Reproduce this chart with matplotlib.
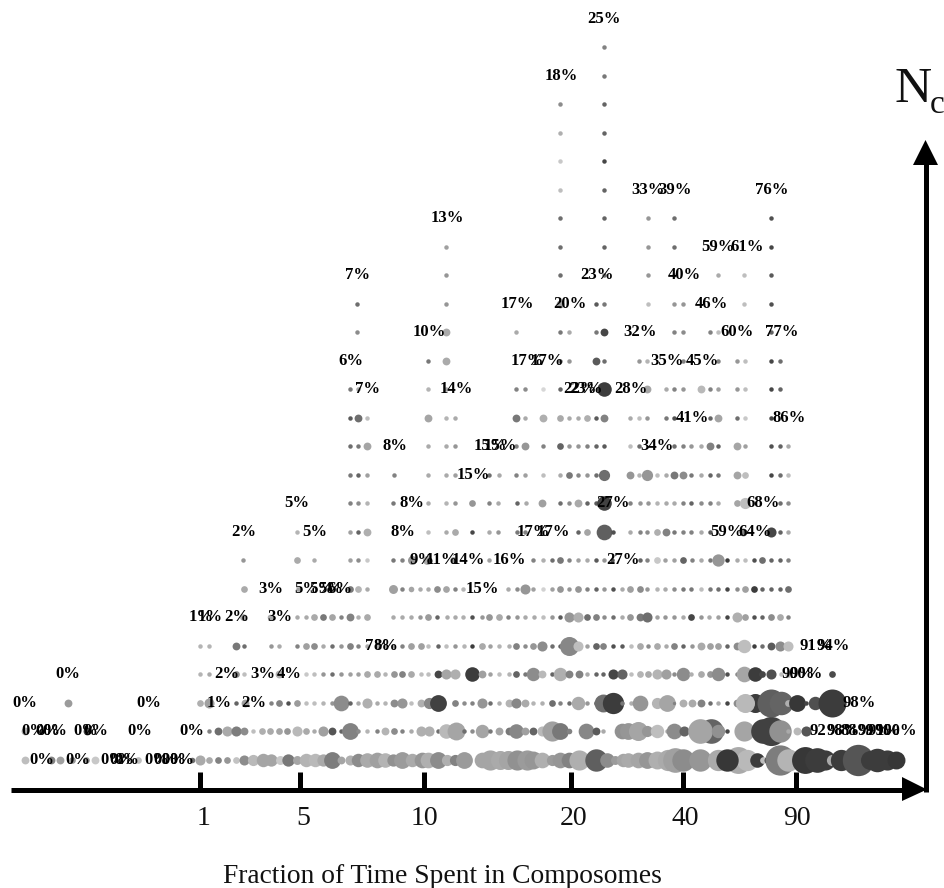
import matplotlib
matplotlib.use("Agg")
import matplotlib.pyplot as plt

# column positions along the fraction axis, circle diameters, grey levels - one set per Nc row
x_01 = [25,51,60,72,86,95,138,192,200,209,218,227,236,244,253,263,271,280,288,297,306,315,323,332,341,350,358,367,377,385,393,402,412,422,428,438,447,455,464,482,490,500,508,517,527,533,542,552,560,569,579,596,607,615,623,628,638,647,657,668,675,683,700,718,738,747,727,757,763,768,780,788,805,817,825,832,841,858,870,877,887,896]
d_01 = [7,7,7,6,6,7,6,5,9,6,6,6,6,9,10,12,11,8,11,8,12,12,11,15,7,9,12,13,14,13,11,15,12,14,14,15,10,10,15,14,18,17,17,18,18,16,14,10,14,14,18,20,13,8,12,13,14,15,16,19,22,20,20,19,24,19,20,13,6,7,27,20,24,22,18,10,19,28,17,21,18,16]
g_01 = [190,130,160,150,150,200,190,110,170,170,130,150,195,140,185,165,165,200,120,165,180,185,170,125,165,175,140,170,160,180,145,155,170,150,175,140,175,130,155,165,165,170,165,145,155,150,175,155,150,130,175,95,140,155,165,170,165,150,175,170,160,140,150,170,170,185,55,60,190,50,125,180,55,60,60,170,60,85,60,60,60,55]

x_02 = [25,87,209,218,227,236,244,253,262,270,279,287,297,306,314,323,332,341,350,358,367,377,385,394,402,411,421,429,438,446,456,464,472,482,490,499,509,516,525,533,542,552,560,569,586,596,603,622,628,638,647,657,667,674,684,711,700,718,727,744,763,771,780,788,797,806]
d_02 = [7,7,4,7,9,9,7,4,6,6,6,6,9,6,4,9,7,4,15,4,4,4,7,6,4,4,9,9,4,13,16,4,4,12,4,7,7,13,7,7,9,18,15,5,14,7,4,14,15,17,10,12,4,14,9,22,22,12,4,18,22,26,20,4,7,9]
g_02 = [170,70,130,110,170,125,140,190,175,170,165,150,185,170,170,160,85,100,130,140,180,130,180,140,130,170,175,175,110,185,165,110,140,165,120,165,120,135,160,100,185,160,120,130,135,90,170,145,150,165,150,190,170,140,100,100,165,145,70,165,65,65,145,170,185,85]

x_03 = [68,200,209,236,245,271,279,288,297,306,314,323,332,341,350,358,367,377,385,394,402,411,421,429,438,455,464,472,482,490,499,509,516,525,533,542,552,560,569,578,587,596,603,613,622,631,640,657,667,674,683,692,701,710,718,727,737,755,745,771,781,788,797,806,815,832]
d_03 = [7,6,9,4,7,4,6,4,6,4,4,4,4,14,4,4,9,4,4,7,9,4,7,10,15,6,4,4,9,4,4,7,9,7,4,4,6,4,4,12,4,4,16,19,4,4,14,10,15,3,7,7,7,4,4,4,7,17,17,25,21,6,15,4,12,25]
g_03 = [155,175,160,100,160,130,130,80,155,190,190,180,150,140,100,170,175,170,180,140,150,190,175,135,65,130,140,130,150,110,175,180,135,170,180,175,110,130,110,170,150,70,110,60,120,175,150,180,165,130,175,170,130,110,170,70,140,60,185,95,100,175,55,70,80,60]

x_04 = [200,209,236,244,279,306,314,323,332,341,350,358,367,377,385,394,402,411,421,428,438,446,455,472,482,490,499,509,516,525,533,542,552,560,569,579,587,596,603,613,622,631,640,648,657,666,674,683,691,701,710,718,727,737,744,755,762,771,781,788,832]
d_04 = [4,4,6,4,7,4,4,4,4,4,4,4,6,6,4,6,6,6,4,4,7,9,9,13,7,4,4,4,6,4,12,7,4,12,7,7,4,4,4,9,9,4,6,6,9,9,4,12,4,6,6,12,4,4,14,13,6,9,4,6,6]
g_04 = [180,170,140,190,175,200,190,150,110,150,160,160,170,170,180,150,130,170,190,190,70,165,175,60,160,160,190,180,100,120,140,185,100,175,130,130,170,100,100,70,100,190,180,170,180,160,140,140,175,170,150,140,80,130,165,60,70,80,190,190,75]

x_05 = [200,209,236,244,271,279,297,306,314,323,332,341,350,358,367,377,385,393,402,411,421,428,438,446,455,464,472,482,490,499,509,516,525,533,542,552,560,569,578,587,596,603,613,622,631,640,648,657,666,674,683,692,701,710,718,727,737,744,754,762,771,780,788]
d_05 = [4,4,7,4,4,4,4,6,6,4,4,4,6,4,4,4,4,4,4,6,6,4,4,4,4,4,4,6,4,4,4,6,4,6,9,4,4,17,9,4,6,6,4,4,4,6,4,6,4,6,4,4,7,6,6,4,7,12,4,4,7,9,9]
g_05 = [180,180,120,110,150,170,130,160,140,170,110,150,130,130,170,170,170,170,130,160,160,190,100,190,150,180,60,170,160,180,175,130,140,150,140,110,100,135,190,160,100,130,80,90,190,170,140,170,170,130,100,150,170,160,160,100,140,190,60,110,90,140,190]

x_06 = [243,270,297,306,314,323,332,341,350,358,367,393,402,411,420,428,437,447,455,463,472,482,489,499,508,517,525,534,543,552,560,569,578,587,596,604,613,622,630,640,647,657,665,674,683,691,701,709,718,727,737,745,754,762,771,780,788]
d_06 = [6,5,4,4,6,6,6,4,7,4,6,4,4,4,4,6,4,4,4,4,4,4,6,6,4,4,4,4,4,4,4,9,9,6,6,4,4,4,6,7,9,4,4,4,4,6,4,4,4,4,9,6,4,4,6,6,4]
g_06 = [170,170,170,170,170,120,165,130,130,175,170,170,170,170,150,155,100,170,170,175,80,150,150,170,130,150,170,170,190,150,90,150,175,110,130,140,110,170,150,120,110,160,150,150,170,70,150,170,160,70,175,160,80,100,140,170,130]

x_07 = [244,298,350,358,367,393,402,411,420,428,437,446,455,463,508,517,525,533,543,552,560,569,578,587,596,604,613,622,630,640,647,657,665,674,683,691,701,710,718,727,737,745,754,762,771,780,788]
d_07 = [6,4,6,6,4,8,4,5,4,4,6,6,4,4,4,4,9,4,4,4,6,4,6,4,4,4,4,4,6,6,4,4,4,4,4,4,4,4,4,4,4,6,6,4,4,4,6]
g_07 = [170,160,120,180,170,160,130,165,170,170,140,165,130,180,170,140,150,160,210,160,150,150,150,130,100,150,80,170,160,140,150,180,170,140,120,120,190,120,110,70,140,160,60,100,100,100,110]

x_08 = [243,297,314,350,358,367,393,402,412,427,453,489,533,543,552,560,569,578,587,596,604,612,640,647,657,665,674,683,692,701,710,718,727,737,745,754,762,771,780,788]
d_08 = [4,6,4,4,4,4,4,4,8,8,6,4,4,4,4,6,4,4,4,4,4,4,4,4,6,4,4,6,4,4,4,11,4,4,4,4,6,4,4,4]
g_08 = [150,170,170,160,140,200,120,130,150,170,160,160,130,175,110,120,130,160,170,90,150,80,100,130,200,160,160,100,130,170,120,150,60,170,190,80,110,100,100,130]

x_09 = [297,350,358,367,428,446,455,472,489,498,517,525,578,587,604,613,630,640,647,657,666,674,683,691,701,710,743,771,780,788]
d_09 = [4,4,4,7,4,4,6,4,4,4,4,4,4,6,14,4,4,4,4,6,7,4,4,4,4,4,7,9,4,4]
g_09 = [180,160,100,175,190,170,170,70,170,150,120,130,100,165,95,80,170,130,140,175,130,120,130,130,170,90,130,70,100,170]

x_10 = [350,358,367,393,428,446,455,472,489,498,517,526,542,560,569,578,587,596,604,630,640,648,657,666,674,683,691,701,710,718,737,745,780,788]
d_10 = [4,4,4,4,4,4,4,6,4,4,4,4,7,4,4,7,4,4,13,4,4,4,4,4,4,4,4,4,4,4,6,10,4,4]
g_10 = [130,140,180,120,170,180,150,150,130,170,100,170,160,110,140,170,100,90,65,130,150,150,180,170,170,130,100,140,130,170,165,190,110,140]

x_11 = [350,358,367,394,428,446,455,489,499,516,525,543,560,569,578,587,596,604,630,639,647,657,666,674,683,691,701,710,718,737,745,771,780,788]
d_11 = [4,4,4,4,4,4,4,4,4,4,4,4,4,6,4,4,4,10,7,4,10,4,4,7,7,4,4,4,4,7,6,4,4,4]
g_11 = [120,100,160,130,170,170,160,110,170,130,160,190,170,120,135,150,110,110,150,180,150,190,170,120,140,120,170,100,120,165,190,70,110,190]

x_12 = [350,358,367,428,446,455,516,525,543,560,569,578,587,596,604,630,639,674,683,691,701,710,718,737,745,771,780,788]
d_12 = [4,4,7,4,4,4,4,7,4,6,4,4,4,4,4,4,4,4,4,4,4,7,4,7,4,4,4,4]
g_12 = [110,120,165,170,170,150,130,150,130,100,150,150,130,100,90,190,110,110,130,150,170,130,100,165,160,80,100,170]

x_13 = [350,358,367,428,446,455,516,525,543,560,569,578,587,596,604,630,639,647,666,674,710,718,737,745,771]
d_13 = [4,7,4,7,4,4,7,4,7,6,4,4,6,4,7,4,4,4,4,4,4,7,4,4,4]
g_13 = [90,110,190,165,180,170,120,170,175,170,170,170,175,90,130,170,190,150,120,80,100,165,110,200,70]

x_14 = [350,358,428,446,516,525,543,560,604,647,666,674,683,701,710,718,737,745,771,780]
d_14 = [4,4,4,4,4,4,4,4,13,7,4,4,4,7,4,4,4,4,4,4]
g_14 = [120,170,180,170,130,140,215,100,60,165,170,130,150,185,130,160,150,190,70,100]

x_15 = [428,446,560,569,596,604,639,647,683,718,737,745,771,780]
d_15 = [4,7,4,4,7,4,4,4,4,4,4,4,4,4]
g_15 = [120,170,120,150,90,110,150,180,130,130,150,190,70,110]

x_16 = [357,446,516,560,569,596,604,674,683,710,718,771]
d_16 = [4,7,4,4,4,4,7,4,4,4,4,4]
g_16 = [140,170,170,120,170,120,70,130,140,130,190,100]

x_17 = [357,446,560,596,604,648,674,683,744,771]
d_17 = [4,4,7,4,4,4,4,4,4,4]
g_17 = [110,150,160,90,120,190,150,150,190,80]

x_18 = [446,560,604,648,674,718,744,771]
d_18 = [4,4,4,4,4,4,4,4]
g_18 = [150,110,110,150,170,170,190,90]

x_19 = [446,560,604,648,674,771]
d_19 = [4,4,4,4,4,4]
g_19 = [160,110,100,150,110,70]

x_20 = [560,604,648,674,771]
d_20 = [4,4,4,4,4]
g_20 = [110,100,150,110,80]

x_21 = [560,604]
d_21 = [4,4]
g_21 = [190,100]

x_22 = [560,604]
d_22 = [4,4]
g_22 = [200,70]

x_23 = [560,604]
d_23 = [4,4]
g_23 = [175,100]

x_24 = [560,604]
d_24 = [4,4]
g_24 = [140,100]

x_25 = [604]
d_25 = [4]
g_25 = [120]

x_26 = [604]
d_26 = [4]
g_26 = [130]

row_x = [x_01,x_02,x_03,x_04,x_05,x_06,x_07,x_08,x_09,x_10,x_11,x_12,x_13,x_14,x_15,x_16,x_17,x_18,x_19,x_20,x_21,x_22,x_23,x_24,x_25,x_26]
row_d = [d_01,d_02,d_03,d_04,d_05,d_06,d_07,d_08,d_09,d_10,d_11,d_12,d_13,d_14,d_15,d_16,d_17,d_18,d_19,d_20,d_21,d_22,d_23,d_24,d_25,d_26]
row_g = [g_01,g_02,g_03,g_04,g_05,g_06,g_07,g_08,g_09,g_10,g_11,g_12,g_13,g_14,g_15,g_16,g_17,g_18,g_19,g_20,g_21,g_22,g_23,g_24,g_25,g_26]

# percent labels above the rows
label_x = [604,561,648,675,772,447,718,747,358,597,684,517,570,711,429,640,737,782,351,527,547,667,702,368,456,580,586,631,692,789,395,490,500,657,473,297,412,613,763,244,315,403,533,553,727,755,422,442,468,509,623,271,307,322,331,340,482,201,210,237,280,378,386,816,833,68,227,263,289,798,806,25,149,219,254,859,34,48,55,86,96,140,192,826,843,857,874,884,896,42,78,113,122,127,157,166,174,182]
label_nc = [27,25,21,21,21,20,19,19,18,18,18,17,17,17,16,16,16,16,15,15,15,15,15,14,14,14,14,14,13,13,12,12,12,12,11,10,10,10,10,9,9,9,9,9,9,9,8,8,8,8,8,7,7,7,7,7,7,6,6,6,6,5,5,5,5,4,4,4,4,4,4,3,3,3,3,3,2,2,2,2,2,2,2,2,2,2,2,2,2,1,1,1,1,1,1,1,1,1]
label_txt = ["25%","18%","33%","39%","76%","13%","59%","61%","7%","23%","40%","17%","20%","46%","10%","32%","60%","77%","6%","17%","17%","35%","45%","7%","14%","22%","23%","28%","41%","86%","8%","15%","15%","34%","15%","5%","8%","27%","68%","2%","5%","8%","17%","17%","59%","64%","9%","11%","14%","16%","27%","3%","5%","5%","5%","6%","15%","1%","1%","2%","3%","7%","8%","91%","94%","0%","2%","3%","4%","90%","90%","0%","0%","1%","2%","98%","0%","0%","0%","0%","0%","0%","0%","92%","98%","88%","99%","99%","100%","0%","0%","0%","0%","0%","0%","0%","0%","0%"]

tick_pos = [200,300,424,571,683,796]
tick_lab = ["1","5","10","20","40","90"]
tick_txt_x = [204,303,424,574,685,797]

W, H = 945, 888
size_scale = 1.12
fig = plt.figure(figsize=(W/100, H/100), dpi=100)
serif = ["Liberation Serif", "DejaVu Serif"]

# main axes: x along the fraction scale, y is Nc
ax = fig.add_axes([0, 0, 1, 1])
ax.set_xlim(0, W)
ax.set_ylim(1-(H-759.7)/28.49, 1+759.7/28.49)
ax.axis("off")

for i in range(len(row_x)):
    for x, d, g in zip(row_x[i], row_d[i], row_g[i]):
        ax.scatter(x, i+1, s=(d*size_scale*0.72)**2, color=str(g/255), linewidths=0, zorder=2)

for x, n, t in zip(label_x, label_nc, label_txt):
    ax.text(x, n, t, ha="center", va="center", family=serif, weight="bold", fontsize=12, color="black", zorder=3)

# overlay in picture coordinates for the arrows and captions
deco = fig.add_axes([0, 0, 1, 1], facecolor="none")
deco.set_xlim(0, W)
deco.set_ylim(H, 0)
deco.axis("off")

deco.plot([11, 910], [789.5, 789.5], color="k", lw=3.6, solid_capstyle="butt")
deco.plot([925.5, 925.5], [792, 160], color="k", lw=3.6, solid_capstyle="butt")
deco.fill([902, 927, 902], [777, 789.5, 801], color="k", lw=0)
deco.fill([913, 925.5, 938], [165, 140, 165], color="k", lw=0)
for t in tick_pos:
    deco.plot([t, t], [772, 788], color="k", lw=3.6, solid_capstyle="butt")
for x, t in zip(tick_txt_x, tick_lab):
    deco.text(x, 818, t, ha="center", va="center", family=serif, fontsize=20, color="#111111")

deco.text(442, 883, "Fraction of Time Spent in Composomes", ha="center", va="baseline", family=serif, fontsize=19.8, color="#111111")
deco.text(894, 102, "N", ha="left", va="baseline", family=serif, fontsize=37, color="#111111")
deco.text(930, 113, "c", ha="left", va="baseline", family=serif, fontsize=24, color="#111111")

plt.savefig("out.png", dpi=100)
